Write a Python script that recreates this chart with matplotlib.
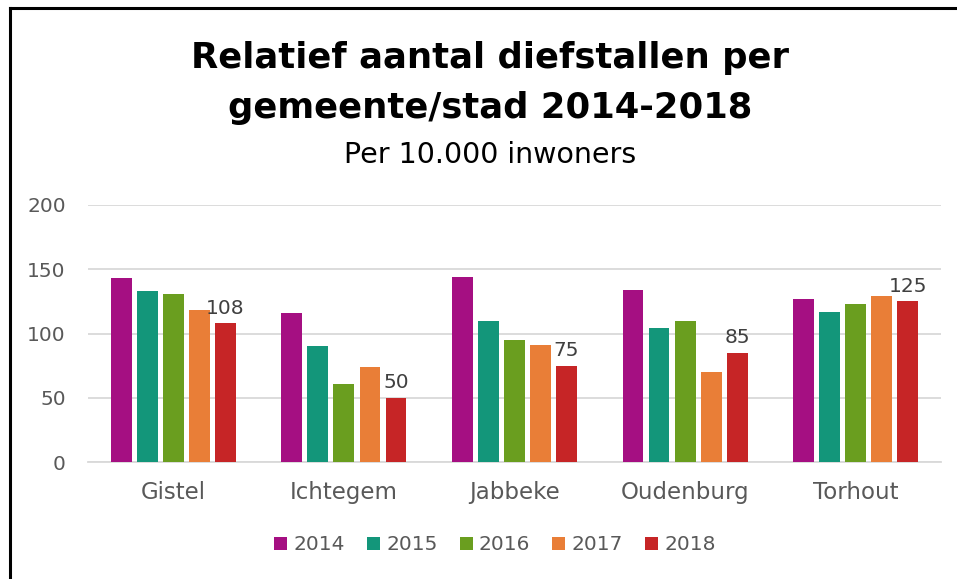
import matplotlib
matplotlib.use("Agg")
import matplotlib.pyplot as plt
import numpy as np
from matplotlib.lines import Line2D
from matplotlib.patches import Patch

categories = ["Gistel", "Ichtegem", "Jabbeke", "Oudenburg", "Torhout"]
years = ["2014", "2015", "2016", "2017", "2018"]
v2014 = [143, 116, 144, 134, 127]
v2015 = [133, 90, 110, 104, 117]
v2016 = [131, 61, 95, 110, 123]
v2017 = [118, 74, 91, 70, 129]
v2018 = [108, 50, 75, 85, 125]
series = [v2014, v2015, v2016, v2017, v2018]
colors = ["#A50F82", "#13967A", "#6A9E1F", "#E97E37", "#C62526"]
yticks = [0, 50, 100, 150, 200]

plt.rcParams['font.family'] = ['DejaVu Sans']

fig = plt.figure(figsize=(9.57, 5.79), dpi=100)
W, H = 957, 579
ax = fig.add_axes([88/W, 1-462/H, (941-88)/W, (462-205)/H])

x = np.arange(len(categories))
step = 0.1526
bw = 0.122
for i, (vals, c) in enumerate(zip(series, colors)):
    pos = x + (i - 2) * step
    ax.bar(pos, vals, width=bw, color=c, label=years[i], zorder=3)
    if i == 4:
        for p, v in zip(pos, vals):
            ax.annotate(str(v), (p, v), xytext=(0, 4), textcoords="offset points",
                        ha="center", va="bottom", fontsize=14.5, color="#404040")

ax.set_xlim(-0.5, len(categories) - 0.5)
ax.set_ylim(0, 200)
ax.set_yticks(yticks)
ax.set_yticklabels([str(t) for t in yticks])
ax.set_xticks(x)
ax.set_xticklabels(categories)
ax.yaxis.grid(True, color="#D9D9D9", linewidth=1.3, zorder=0)
ax.set_axisbelow(True)
for s in ["top", "right", "left"]:
    ax.spines[s].set_visible(False)
ax.spines["bottom"].set_color("#D9D9D9")
ax.spines["bottom"].set_linewidth(1.3)
ax.tick_params(axis="both", length=0, labelsize=14.5, colors="#595959")
ax.tick_params(axis="x", labelsize=16.5, pad=14)
ax.tick_params(axis="y", pad=16)

fig.text(490/W, 1-58/H, "Relatief aantal diefstallen per", ha="center", va="center",
         fontsize=25.5, fontweight="bold", color="black")
fig.text(490/W, 1-108/H, "gemeente/stad 2014-2018", ha="center", va="center",
         fontsize=25.5, fontweight="bold", color="black")
fig.text(490/W, 1-155/H, "Per 10.000 inwoners", ha="center", va="center",
         fontsize=20.5, color="black")

handles = [Patch(facecolor=c, label=y) for c, y in zip(colors, years)]
leg = fig.legend(handles=handles, loc="center", bbox_to_anchor=(495/W, 1-545/H), ncol=5,
                 frameon=False, fontsize=14.5, handlelength=0.65, handleheight=0.65,
                 handletextpad=0.3, columnspacing=1.1)
for t in leg.get_texts():
    t.set_color("#595959")

# chart border (left and top)
fig.add_artist(Line2D([9.5/W, 9.5/W], [0, 1-8/H], color="black", linewidth=2.2, transform=fig.transFigure))
fig.add_artist(Line2D([9.5/W, 1], [1-8/H, 1-8/H], color="black", linewidth=2.2, transform=fig.transFigure))

fig.savefig("out.png", dpi=100)
